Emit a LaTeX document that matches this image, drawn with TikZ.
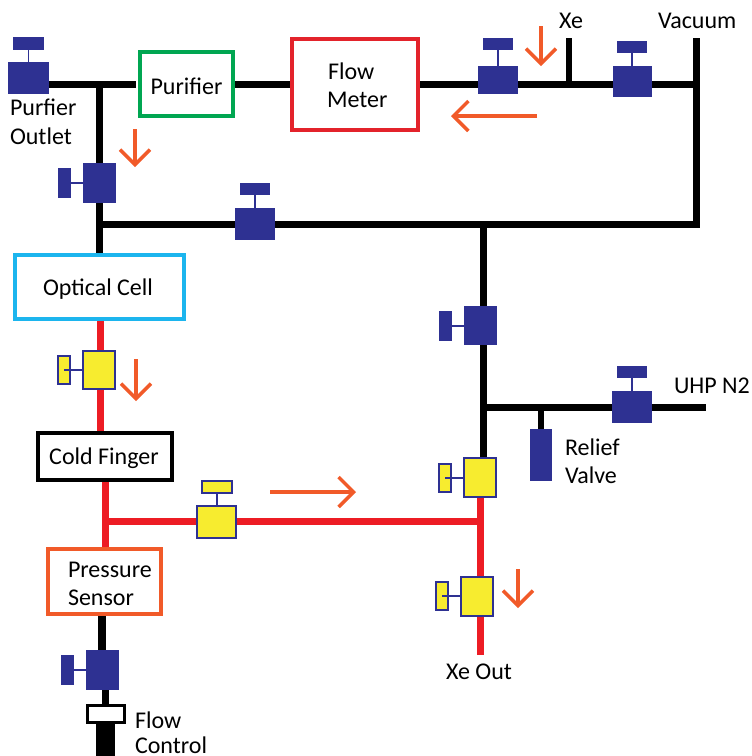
\documentclass[tikz,border=0pt]{standalone}
\usepackage{fontspec}
\setmainfont{Carlito}
\usetikzlibrary{arrows.meta}
\pgfdeclarelayer{pipes}
\pgfsetlayers{pipes,main}
\definecolor{vblue}{HTML}{2E3192}
\definecolor{vyellow}{HTML}{F7EC2F}
\definecolor{pipered}{HTML}{ED1C24}
\definecolor{flow}{HTML}{F15A29}
\definecolor{pgreen}{HTML}{00A651}
\definecolor{ccyan}{HTML}{1CB5EE}
\definecolor{mred}{HTML}{E3232B}
\tikzset{
  x=1pt,y=-1pt,
  rectn/.style={rectangle,inner sep=0pt,outer sep=0pt},
  bluev/.style={rectn,fill=vblue},
  yellowv/.style={rectn,fill=vyellow,draw=vblue,line width=1.2pt},
  stemb/.style={draw=vblue,line width=1.2pt},
  blackp/.style={draw=black,line width=7pt},
  blackthin/.style={draw=black,line width=6pt},
  redp/.style={draw=pipered,line width=7pt},
  boxn/.style={rectn,fill=white,line width=3.5pt},
  flowarrow/.style={draw=flow,line width=3.5pt,-{Straight Barb[length=15pt,width=30pt,line width=3.5pt]}},
  lab/.style={inner sep=0pt,outer sep=0pt,anchor=base west,font=\fontsize{24}{26}\selectfont,text=black},
  labc/.style={inner sep=0pt,outer sep=0pt,anchor=base,font=\fontsize{24}{26}\selectfont,text=black}
}
% style, name, x1, y1, x2, y2, text
\newcommand\rectnode[7][]{%
  \pgfmathsetmacro\rw{#5-#3}\pgfmathsetmacro\rh{#6-#4}%
  \pgfmathsetmacro\rx{(#3+#5)/2}\pgfmathsetmacro\ry{(#4+#6)/2}%
  \node[#1,minimum width=\rw pt,minimum height=\rh pt] (#2) at (\rx,\ry) {#7};%
}
\begin{document}
\begin{tikzpicture}
\useasboundingbox (0,0) rectangle (752,756);

% ---- component boxes
\rectnode[boxn,draw=pgreen]{purifier}{140}{52}{233}{116}{}
\rectnode[boxn,draw=mred]{meter}{292}{39}{418}{130}{}
\rectnode[boxn,draw=ccyan]{cell}{15}{255}{184}{319}{}
\rectnode[boxn,draw=black]{finger}{38}{433}{172}{480}{}
\rectnode[boxn,draw=flow]{sensor}{48}{549}{161}{614}{}
\rectnode[boxn,draw=black,line width=3pt]{fc}{87}{705}{124}{722}{}
\rectnode[rectn,fill=black]{fcpipe}{96}{723}{115}{756}{}

% ---- blue valves
\rectnode[bluev]{va}{8}{62}{49}{94}{}
\rectnode[bluev]{vah}{13}{37}{44}{50}{}
\rectnode[bluev]{vb}{478}{66}{518}{94}{}
\rectnode[bluev]{vbh}{483}{38}{513}{50}{}
\rectnode[bluev]{vc}{613}{66}{652}{97}{}
\rectnode[bluev]{vch}{617}{41}{647}{53}{}
\rectnode[bluev]{vd}{83}{163}{116}{203}{}
\rectnode[bluev]{vdh}{58}{168}{71}{198}{}
\rectnode[bluev]{ve}{235}{208}{275}{240}{}
\rectnode[bluev]{veh}{240}{183}{270}{195}{}
\rectnode[bluev]{vf}{464}{306}{497}{345}{}
\rectnode[bluev]{vfh}{439}{311}{452}{341}{}
\rectnode[bluev]{vg}{612}{391}{652}{423}{}
\rectnode[bluev]{vgh}{617}{366}{647}{378}{}
\rectnode[bluev]{relief}{530}{429}{552}{481}{}
\rectnode[bluev]{vm}{86}{650}{119}{690}{}
\rectnode[bluev]{vmh}{61}{655}{74}{685}{}

% ---- yellow valves
\rectnode[yellowv]{vh}{464}{458}{496}{497}{}
\rectnode[yellowv]{vhh}{439}{464}{451}{492}{}
\rectnode[yellowv]{vi}{461}{577}{493}{616}{}
\rectnode[yellowv]{vih}{436}{582}{448}{610}{}
\rectnode[yellowv]{vj}{197}{506}{236}{538}{}
\rectnode[yellowv]{vjh}{202}{481}{232}{493}{}
\rectnode[yellowv]{vk}{83}{351}{115}{389}{}
\rectnode[yellowv]{vkh}{58}{356}{70}{384}{}

% ---- junctions and free ends
\coordinate (top) at (0,84);
\coordinate (jTee) at (99,84);
\coordinate (jMid) at (99,224);
\coordinate (jXe) at (569,84);
\coordinate (xeEnd) at (569,38);
\coordinate (jVac) at (696,84);
\coordinate (vacEnd) at (696,41.5);
\coordinate (jVacLow) at (696,224);
\coordinate (jDown) at (483,224);
\coordinate (jN2) at (483,407);
\coordinate (n2End) at (706,407);
\coordinate (jRel) at (541,407);
\coordinate (jRedR) at (480,521);
\coordinate (jRedL) at (105,521);
\coordinate (xeOut) at (480,655);

% ---- pipes
\begin{pgfonlayer}{pipes}
\draw[blackp] (va.east |- top) -- ([xshift=-4pt]purifier.west |- top);
\draw[blackp] (purifier.east |- top) -- (meter.west |- top);
\draw[blackp] (meter.east |- top) -- (vb.west |- top);
\draw[blackp] (vb.east |- top) -- (vc.west |- top);
\draw[blackp,line cap=rect] (vc.east |- top) -- (jVac);
\draw[blackthin] (jXe) -- (xeEnd);
\draw[blackp,line cap=rect] (vacEnd) -- (jVacLow);
\draw[blackp] (jTee) -- (jTee |- vd.north);
\draw[blackp] (jTee |- vd.south) -- (jTee |- cell.north);
\draw[blackp] (jMid) -- (ve.west |- jMid);
\draw[blackp,line cap=rect] (ve.east |- jMid) -- (jVacLow);
\draw[blackp] (jDown) -- (jDown |- vf.north);
\draw[blackp] (jDown |- vf.south) -- (jDown |- vh.north);
\draw[blackp] (jN2) -- (vg.west |- jN2);
\draw[blackp] (vg.east |- jN2) -- (n2End);
\draw[blackthin] (jRel) -- (relief.north -| jRel);
\draw[redp] (vk.north -| 100,0) -- (cell.south -| 100,0);
\draw[redp] (vk.south -| 100,0) -- (finger.north -| 100,0);
\draw[redp] (finger.south -| jRedL) -- (sensor.north -| jRedL);
\draw[redp] (jRedL) -- (vj.west |- jRedL);
\draw[redp] (vj.east |- jRedL) -- (jRedR);
\draw[redp] (vh.south -| jRedR) -- (vi.north -| jRedR);
\draw[redp] (vi.south -| jRedR) -- (xeOut);
\draw[blackp,line width=8pt] (sensor.south -| 102,0) -- (vm.north -| 102,0);
\draw[blackp] (vm.south -| 105,0) -- (fc.north -| 105,0);
\end{pgfonlayer}

% ---- valve stems
\draw[stemb] (vah.center) -- (va.north);
\draw[stemb] (vbh.center) -- (vb.north -| vbh.center);
\draw[stemb] (vch.center) -- (vc.north -| vch.center);
\draw[stemb] (vdh.center) -- (vd.west |- vdh.center);
\draw[stemb] (veh.center) -- (ve.north -| veh.center);
\draw[stemb] (vfh.center) -- (vf.west |- vfh.center);
\draw[stemb] (vgh.center) -- (vg.north -| vgh.center);
\draw[stemb] (vmh.center) -- (vm.west |- vmh.center);
\draw[stemb] (vhh.center) -- (vh.west |- vhh.center);
\draw[stemb] (vih.center) -- (vi.west |- vih.center);
\draw[stemb] (vjh.south) -- (vj.north -| vjh.south);
\draw[stemb] (vkh.center) -- (vk.west |- vkh.center);

% ---- flow arrows
\coordinate (fa1s) at (135,129); \coordinate (fa1e) at (135,167);
\coordinate (fa2s) at (541,26);  \coordinate (fa2e) at (541,66);
\coordinate (fa3s) at (537,116); \coordinate (fa3e) at (451,116);
\coordinate (fa4s) at (136,359); \coordinate (fa4e) at (136,401);
\coordinate (fa5s) at (270,492); \coordinate (fa5e) at (356,492);
\coordinate (fa6s) at (518,569); \coordinate (fa6e) at (518,608);
\draw[flowarrow] (fa1s) -- (fa1e);
\draw[flowarrow] (fa2s) -- (fa2e);
\draw[flowarrow] (fa3s) -- (fa3e);
\draw[flowarrow] (fa4s) -- (fa4e);
\draw[flowarrow] (fa5s) -- (fa5e);
\draw[flowarrow] (fa6s) -- (fa6e);

% ---- labels
\node[lab] (t1) at (10,115) {Purfier};
\node[lab] (t2) at (10,144) {Outlet};
\node[labc] (t3) at (186.5,94) {Purifier};
\node[lab] (t4) at (328,79) {Flow};
\node[lab] (t5) at (327,107) {Meter};
\node[lab] (t6) at (559,28) {Xe};
\node[lab] (t7) at (658,28) {Vacuum};
\node[labc] (t8) at (98,295) {Optical Cell};
\node[labc] (t9) at (104,464) {Cold Finger};
\node[lab] (t10) at (68,577) {Pressure};
\node[lab] (t11) at (68,605) {Sensor};
\node[lab] (t12) at (135,728) {Flow};
\node[lab] (t13) at (135,753) {Control};
\node[lab] (t14) at (446,679) {Xe Out};
\node[lab] (t15) at (565,455) {Relief};
\node[lab] (t16) at (565,483) {Valve};
\node[lab] (t17) at (674,393) {UHP N2};
\end{tikzpicture}
\end{document}
